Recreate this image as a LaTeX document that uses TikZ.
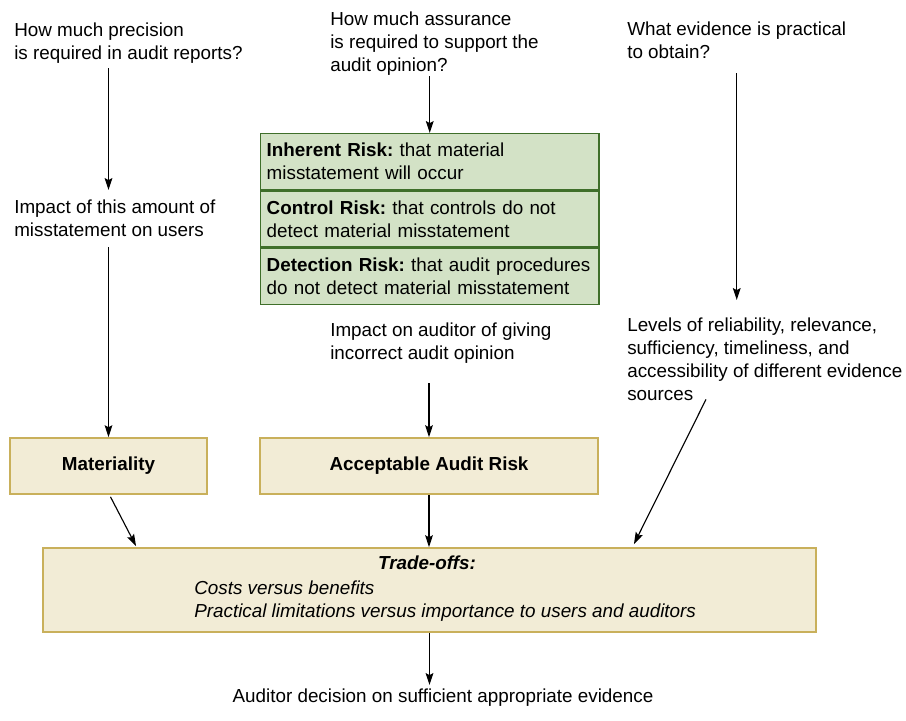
\documentclass[tikz,border=0pt]{standalone}
\usepackage{fontspec}
\setmainfont{Liberation Sans}
\usepackage{tikz}
\usetikzlibrary{
	arrows.meta,
	positioning,
	calc
}
\usepackage{xcolor}
\definecolor{riskfill}{HTML}{D3E2C6}
\definecolor{riskedge}{HTML}{3F6F2A}
\definecolor{tradefill}{HTML}{F2ECD6}
\definecolor{tradeedge}{HTML}{C9B05B}
\frenchspacing

\begin{document}
\begin{tikzpicture}[x=0.025cm, y=-0.025cm,
		font=\fontsize{13.4}{16.36}\selectfont,
		txt/.style={anchor=north west, align=left, inner sep=0pt},
		arr/.style={-{Stealth[length=8.5pt,width=5.5pt,inset=1.5pt]}, line width=0.8pt},
		riskbox/.style={draw=riskedge, fill=riskfill, line width=1pt,
			minimum width=8.45cm, minimum height=1.4cm,
			text width=8.15cm, inner xsep=0.15cm, align=left},
		tradebox/.style={draw=tradeedge, fill=tradefill, line width=1.2pt,
			minimum height=1.4cm, font=\fontsize{13.4}{16.36}\selectfont\bfseries}]
		
		\useasboundingbox (0,0) rectangle (906,721);
		
		% Questions
		\node[txt] (prec) at (14,23) {How much precision\\is required in audit reports?};
		\node[txt] (assur) at (330,12) {How much assurance\\is required to support the\\audit opinion?};
		\node[txt] (evid) at (627,22) {What evidence is practical\\to obtain?};
		
		% Impacts
		\node[txt] (impusers) at (14,200) {Impact of this amount of\\misstatement on users};
		\node[txt] (impaud) at (330,323) {Impact on auditor of giving\\incorrect audit opinion};
		\node[txt] (levels) at (627,318) {Levels of reliability, relevance,\\sufficiency, timeliness, and\\accessibility of different evidence\\sources};
		
		% Risk components
		\node[riskbox, anchor=north west] (inh) at (260,133)
		{\textbf{Inherent Risk:} that material\\misstatement will occur};
		\node[riskbox, below=0pt of inh] (ctl)
		{\textbf{Control Risk:} that controls do not\\detect material misstatement};
		\node[riskbox, below=0pt of ctl] (det)
		{\textbf{Detection Risk:} that audit procedures\\do not detect material misstatement};
		
		% Materiality and risk
		\node[tradebox, minimum width=4.925cm] (mat) at (108.5,466) {Materiality};
		\node[tradebox, minimum width=8.45cm] (aar) at (429,466) {Acceptable Audit Risk};
		
		% Trade-offs
		\node[tradebox, minimum width=19.325cm, minimum height=2.1cm] (trade) at (429.5,590) {};
		\node[anchor=north, inner sep=0pt] (tradehead) at (427,556) {\textbf{\textit{Trade-offs:}}};
		\node[txt] (tradelist) at (194,581)
		{\textit{Costs versus benefits}\\\textit{Practical limitations versus importance to users and auditors}};
		
		\node[anchor=north, inner sep=0pt] (decision) at (443,689)
		{Auditor decision on sufficient appropriate evidence};
		
		% Arrows
		\draw[arr, shorten <=0.1cm, shorten >=0.25cm] (prec.south -| mat.north) -- (impusers.north -| mat.north);
		\draw[arr, shorten <=0.25cm] (impusers.south -| mat.north) -- (mat.north);
		\draw[arr] (assur.south -| inh.north) -- (inh.north);
		\draw[arr, shorten <=0.35cm, shorten >=0.45cm] (evid.south) -- (evid.south |- levels.north);
		\draw[arr, shorten <=0.475cm] (impaud.south -| aar.north) -- (aar.north);
		\draw[arr] ($(levels.south west)+(79,-2)$) -- ($(trade.north east)+(-183,-3)$);
		\draw[arr] ($(mat.south)+(2,2)$) -- ($(trade.north west)+(94,-1)$);
		\draw[arr] (aar.south) -- (aar.south |- trade.north);
		\draw[arr, shorten >=0.1cm] (trade.south) -- (trade.south |- decision.north);
		
	\end{tikzpicture}
\end{document}
